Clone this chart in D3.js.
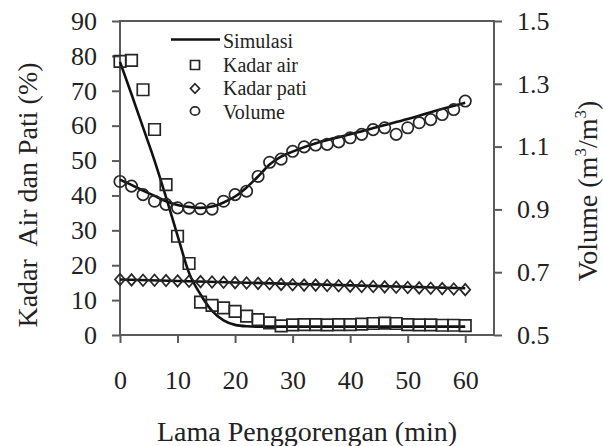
<!DOCTYPE html>
<html>
<head>
<meta charset="utf-8">
<script src="https://cdn.jsdelivr.net/npm/d3@7"></script>
<style>
  html, body { margin: 0; padding: 0; background: #fff; }
  svg { display: block; }
  text { font-family: "Liberation Serif", "Times New Roman", serif; fill: #222; }
</style>
</head>
<body>
<svg id="chart" width="603" height="446"></svg>
<script>
// Frying time (min) for measured points
const minutes = [0, 2, 4, 6, 8, 10, 12, 14, 16, 18, 20, 22, 24, 26, 28, 30,
                 32, 34, 36, 38, 40, 42, 44, 46, 48, 50, 52, 54, 56, 58, 60];

// Measured moisture content (%)
const kadarAir = [78.4, 78.7, 70.3, 58.9, 43.1, 28.3, 20.5, 9.4, 8.5, 7.8, 6.8, 5.4, 4.4, 3.5, 2.6, 2.9,
                  3.0, 3.0, 2.9, 3.0, 3.0, 3.1, 3.3, 3.4, 3.3, 3.0, 2.9, 2.9, 2.8, 2.8, 2.7];

// Measured starch content (%)
const kadarPati = [15.9, 15.8, 15.7, 15.7, 15.6, 15.5, 15.4, 15.3, 15.2, 15.1, 15.0, 14.9, 14.8, 14.7, 14.5, 14.4,
                   14.3, 14.3, 14.2, 14.1, 14.0, 13.9, 13.9, 13.8, 13.7, 13.6, 13.5, 13.4, 13.3, 13.2, 13.0];

// Measured relative volume (m3/m3)
const volume = [0.989, 0.974, 0.947, 0.926, 0.916, 0.905, 0.904, 0.902, 0.901, 0.926, 0.947, 0.958, 1.005, 1.050, 1.060, 1.085,
                1.099, 1.105, 1.107, 1.115, 1.128, 1.139, 1.154, 1.160, 1.139, 1.160, 1.176, 1.186, 1.202, 1.218, 1.245];

// Simulated curves
const simAirT = [0, 2, 4, 6, 8, 10, 12, 14, 16, 18, 20, 22, 24, 30, 40, 50, 60];
const simAir  = [78.3, 69.0, 59.5, 50.0, 39.5, 28.5, 17.8, 11.6, 6.9, 4.2, 2.9, 2.5, 2.4, 2.4, 2.4, 2.4, 2.4];

const simPatiT = [0, 60];
const simPati  = [15.9, 13.4];

const simVolT = [0, 2, 4, 6, 8, 10, 12, 14, 16, 18, 20, 22, 24, 26, 28, 30, 35, 40, 45, 50, 55, 60];
const simVol  = [0.995, 0.978, 0.960, 0.943, 0.926, 0.914, 0.908, 0.905, 0.909, 0.922, 0.941, 0.970, 1.005, 1.043, 1.068,
                 1.084, 1.116, 1.139, 1.164, 1.188, 1.215, 1.240];

// Axis ticks
const xTicks = [0, 10, 20, 30, 40, 50, 60];
const leftTicks = [0, 10, 20, 30, 40, 50, 60, 70, 80, 90];
const rightTicks = [0.5, 0.7, 0.9, 1.1, 1.3, 1.5];

const legendLabels = ["Simulasi", "Kadar air", "Kadar pati", "Volume"];

const FONT = '"Liberation Serif", "Times New Roman", serif';
const W = 603, H = 446;
const margin = { left: 120, right: 109, top: 21, bottom: 111 };
const innerW = W - margin.left - margin.right;
const innerH = H - margin.top - margin.bottom;

const svg = d3.select("#chart").attr("font-family", FONT);

const x = d3.scaleLinear().domain([0, 65]).range([margin.left, margin.left + innerW]);
const yL = d3.scaleLinear().domain([0, 90]).range([margin.top + innerH, margin.top]);
const yR = d3.scaleLinear().domain([0.5, 1.5]).range([margin.top + innerH, margin.top]);

const axisColor = "#5a5a5a";
const markColor = "#262626";

// Axes
const gLeft = svg.append("g")
  .attr("transform", `translate(${margin.left},0)`)
  .call(d3.axisLeft(yL).tickValues(leftTicks).tickSize(8).tickSizeOuter(0).tickPadding(15));
const gRight = svg.append("g")
  .attr("transform", `translate(${margin.left + innerW},0)`)
  .call(d3.axisRight(yR).tickValues(rightTicks).tickSize(8).tickSizeOuter(0).tickPadding(15).tickFormat(d3.format(".1f")));
const gBottom = svg.append("g")
  .attr("transform", `translate(0,${margin.top + innerH})`)
  .call(d3.axisBottom(x).tickValues(xTicks).tickSize(8).tickSizeOuter(0).tickPadding(28));

[gLeft, gRight, gBottom].forEach(g => {
  g.attr("font-family", FONT);
  g.select(".domain").remove();
  g.selectAll(".tick line").attr("stroke", axisColor).attr("stroke-width", 2);
  g.selectAll(".tick text").attr("font-size", 26).attr("fill", "#222").style("font-family", FONT);
});

// Frame
svg.append("rect")
  .attr("x", margin.left).attr("y", margin.top)
  .attr("width", innerW).attr("height", innerH)
  .attr("fill", "none").attr("stroke", axisColor).attr("stroke-width", 2);

// Simulated lines
const lineL = d3.line().x(d => x(d[0])).y(d => yL(d[1])).curve(d3.curveMonotoneX);
const lineR = d3.line().x(d => x(d[0])).y(d => yR(d[1])).curve(d3.curveMonotoneX);

const lines = svg.append("g").attr("fill", "none").attr("stroke", "#111").attr("stroke-width", 2.6);
lines.append("path").attr("d", lineL(d3.zip(simAirT, simAir)));
lines.append("path").attr("d", lineL(d3.zip(simPatiT, simPati)));
lines.append("path").attr("d", lineR(d3.zip(simVolT, simVol)));

// Marker shapes
const sq = s => `M${-s/2},${-s/2}h${s}v${s}h${-s}Z`;
const dia = (w, h) => `M0,${-h/2}L${w/2},0L0,${h/2}L${-w/2},0Z`;

const marks = svg.append("g").attr("fill", "none").attr("stroke", markColor).attr("stroke-width", 1.7);

marks.selectAll(".sq").data(d3.zip(minutes, kadarAir)).join("path")
  .attr("d", sq(11.5))
  .attr("transform", d => `translate(${x(d[0])},${yL(d[1])})`);

marks.selectAll(".dm").data(d3.zip(minutes, kadarPati)).join("path")
  .attr("d", dia(10, 11.5))
  .attr("transform", d => `translate(${x(d[0])},${yL(d[1])})`);

marks.selectAll("circle").data(d3.zip(minutes, volume)).join("circle")
  .attr("cx", d => x(d[0])).attr("cy", d => yR(d[1])).attr("r", 5.7);

// Legend
const legend = svg.append("g");
const lgX = 195, lgText = 223, lgBase = 48, lgStep = 23.5;
legend.append("line")
  .attr("x1", 171).attr("x2", 220).attr("y1", lgBase - 8.5).attr("y2", lgBase - 8.5)
  .attr("stroke", "#111").attr("stroke-width", 2.6);
legend.append("path").attr("d", sq(9)).attr("transform", `translate(${lgX},${lgBase + lgStep - 6.5})`)
  .attr("fill", "none").attr("stroke", markColor).attr("stroke-width", 1.7);
legend.append("path").attr("d", dia(9, 9.5)).attr("transform", `translate(${lgX},${lgBase + 2 * lgStep - 6.5})`)
  .attr("fill", "none").attr("stroke", markColor).attr("stroke-width", 1.7);
legend.append("ellipse").attr("cx", lgX).attr("cy", lgBase + 3 * lgStep - 7.5).attr("rx", 4.6).attr("ry", 4.2)
  .attr("fill", "none").attr("stroke", markColor).attr("stroke-width", 1.7);
legend.selectAll("text").data(legendLabels).join("text")
  .attr("x", lgText).attr("y", (d, i) => lgBase + i * lgStep)
  .attr("font-size", 20).style("font-family", FONT).text(d => d);

// Axis titles
svg.append("text")
  .attr("transform", "translate(37,195) rotate(-90)")
  .attr("text-anchor", "middle").attr("font-size", 28)
  .style("font-family", FONT).style("white-space", "pre")
  .text("Kadar  Air dan Pati (%)");

const rt = svg.append("text")
  .attr("transform", "translate(597,191) rotate(-90)")
  .attr("text-anchor", "middle").attr("font-size", 28)
  .style("font-family", FONT);
rt.append("tspan").text("Volume (m");
rt.append("tspan").attr("font-size", 17).attr("dy", -11).text("3");
rt.append("tspan").attr("dy", 11).text("/m");
rt.append("tspan").attr("font-size", 17).attr("dy", -11).text("3");
rt.append("tspan").attr("dy", 11).text(")");

svg.append("text")
  .attr("x", margin.left + innerW / 2).attr("y", 441)
  .attr("text-anchor", "middle").attr("font-size", 28)
  .style("font-family", FONT)
  .text("Lama Penggorengan (min)");
</script>
</body>
</html>
